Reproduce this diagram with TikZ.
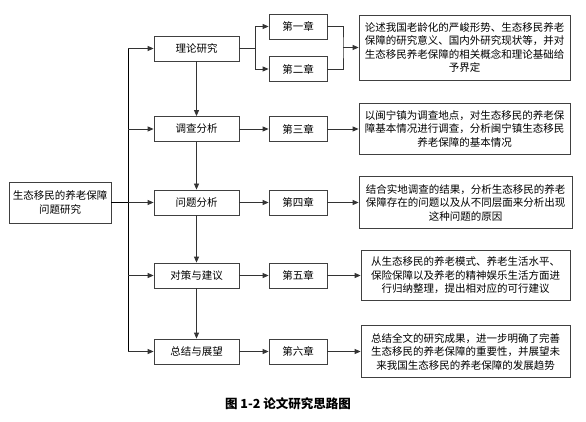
\documentclass[tikz,border=0pt]{standalone}
\usepackage{fontspec}
\setmainfont{Noto Sans CJK SC}
\usetikzlibrary{arrows.meta}
\begin{document}
\begin{tikzpicture}[x=1pt,y=-1pt,
  box/.style={draw=black!75,line width=0.8pt,inner sep=0pt,align=center,font=\fontsize{10.5}{13.5}\selectfont},
  midbox/.style={box,minimum width=85pt,minimum height=25pt},
  chapbox/.style={box,minimum width=58pt,minimum height=25pt},
  line/.style={draw=black!80,line width=0.8pt},
  arr/.style={line,-{Triangle[length=6pt,width=5pt]}}]
\useasboundingbox[fill=white] (0,0) rectangle (586,422);
% left box
\node[box,minimum width=102pt,minimum height=41pt] (L) at (60,202.5) {生态移民的养老保障\\问题研究};
% middle boxes
\node[midbox] (m1) at (196.5,48.5) {理论研究};
\node[midbox] (m2) at (196.5,129) {调查分析};
\node[midbox] (m3) at (196.5,202.5) {问题分析};
\node[midbox] (m4) at (196.5,275.5) {对策与建议};
\node[midbox] (m5) at (196.5,351.5) {总结与展望};
% chapter boxes
\node[chapbox] (c1) at (298,26.5) {第一章};
\node[chapbox] (c2) at (298,69) {第二章};
\node[chapbox] (c3) at (298,129) {第三章};
\node[chapbox] (c4) at (298,202.5) {第四章};
\node[chapbox] (c5) at (298,275.5) {第五章};
\node[chapbox] (c6) at (298,351.5) {第六章};
% description boxes
\node[box,minimum width=211pt,minimum height=65pt] (d1) at (464.5,47.5) {论述我国老龄化的严峻形势、生态移民养老\\保障的研究意义、国内外研究现状等，并对\\生态移民养老保障的相关概念和理论基础给\\予界定};
\node[box,minimum width=211pt,minimum height=51pt] (d2) at (464.5,129) {以闽宁镇为调查地点，对生态移民的养老保\\障基本情况进行调查，分析闽宁镇生态移民\\养老保障的基本情况};
\node[box,minimum width=213pt,minimum height=52pt] (d3) at (465.5,202.5) {结合实地调查的结果，分析生态移民的养老\\保障存在的问题以及从不同层面来分析出现\\这种问题的原因};
\node[box,minimum width=209pt,minimum height=50pt] (d4) at (465.5,275.5) {从生态移民的养老模式、养老生活水平、\\保险保障以及养老的精神娱乐生活方面进\\行归纳整理，提出相对应的可行建议};
\node[box,minimum width=209pt,minimum height=52pt] (d5) at (465.5,351.5) {总结全文的研究成果，进一步明确了完善\\生态移民的养老保障的重要性，并展望未\\来我国生态移民的养老保障的发展趋势};
% caption
\node[font=\fontsize{12.5}{14}\selectfont\bfseries] (cap) at (288,404) {图 1-2 论文研究思路图};
% trunk
\coordinate (tTop) at (128,48.5);
\coordinate (tBot) at (128,351.5);
\draw[line,draw=black] (tTop) -- (tBot);
\draw[line,draw=black] (L.east) -- (L.east -| tTop);
\draw[arr] (tTop) -- (m1.west);
\draw[arr] (m2.west -| tTop) -- (m2.west);
\draw[arr] (m3.west -| tTop) -- (m3.west);
\draw[arr] (m4.west -| tTop) -- (m4.west);
\draw[arr] (tBot) -- (m5.west);
% vertical between middle boxes
\draw[arr] (m1.south) -- (m2.north);
\draw[arr] (m2.south) -- (m3.north);
\draw[arr] (m3.south) -- (m4.north);
\draw[arr] (m4.south) -- (m5.north);
% theory branch
\coordinate (b1) at (255,48.5);
\draw[line] (m1.east) -- (b1);
\draw[arr] (b1) |- (c1.west);
\draw[arr] (b1) |- (c2.west);
% chapters to descriptions
\coordinate (j1) at (343,47.5);
\draw[line] (c1.east) -| (j1) |- (c2.east);
\draw[arr] (j1) -- (d1.west);
\draw[arr] (c3.east) -- (d2.west);
\draw[arr] (c4.east) -- (d3.west);
\draw[arr] (c5.east) -- (d4.west);
\draw[arr] (c6.east) -- (d5.west);
% middle to chapters
\draw[arr] (m2.east) -- (c3.west);
\draw[arr] (m3.east) -- (c4.west);
\draw[arr] (m4.east) -- (c5.west);
\draw[arr] (m5.east) -- (c6.west);
\end{tikzpicture}
\end{document}
